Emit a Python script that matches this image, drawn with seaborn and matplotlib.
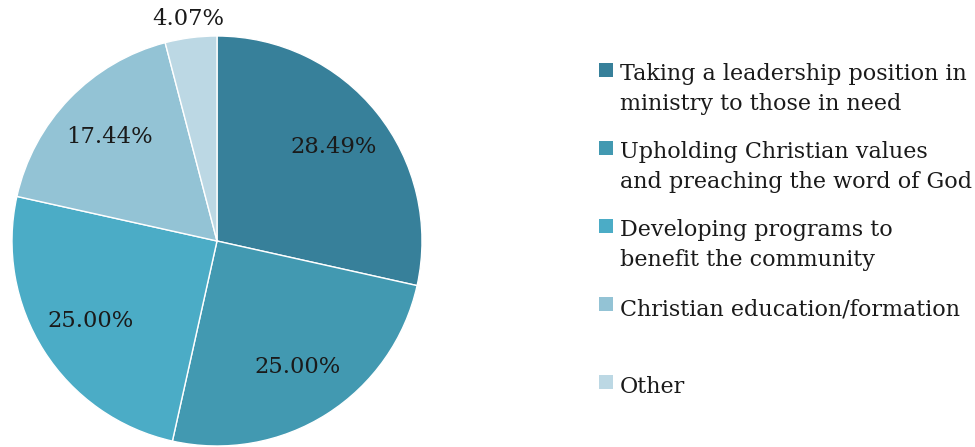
import matplotlib
matplotlib.use("Agg")
import matplotlib.pyplot as plt
from matplotlib.patches import Rectangle
import numpy as np
import seaborn as sns

categories = [
    "Taking a leadership position in\nministry to those in need",
    "Upholding Christian values\nand preaching the word of God",
    "Developing programs to\nbenefit the community",
    "Christian education/formation",
    "Other",
]
shares = [28.49, 25.00, 25.00, 17.44, 4.07]
colors = ["#37809a", "#4299b1", "#4bacc6", "#93c3d5", "#bcd8e4"]

sns.set_theme(style="white")
plt.rcParams["font.family"] = ["DejaVu Serif", "DejaVu Sans"]

W, H = 975, 447
fig = plt.figure(figsize=(W / 100, H / 100), dpi=100)

# pie axes: centre (217, 241) px, radius 205 px
cx, cy, r = 217, 241, 205
ax = fig.add_axes([(cx - r) / W, (H - cy - r) / H, 2 * r / W, 2 * r / H])
wedges, texts, autotexts = ax.pie(
    shares,
    colors=colors,
    startangle=90,
    counterclock=False,
    autopct="%.2f%%",
    pctdistance=0.73,
    wedgeprops=dict(edgecolor="white", linewidth=1),
    textprops=dict(fontsize=16.3, color="#1a1a1a"),
)
# small "Other" slice gets its label outside the circle
w = wedges[-1]
mid = np.deg2rad((w.theta1 + w.theta2) / 2)
autotexts[-1].set_position((1.09 * np.cos(mid), 1.09 * np.sin(mid)))
ax.set_xlim(-1, 1)
ax.set_ylim(-1, 1)
ax.set_aspect("equal")
ax.axis("off")

# legend on the right: square key aligned with the first text line
line_step = 29  # px between wrapped lines
for i, (lab, col) in enumerate(zip(categories, colors)):
    base = 81 + 78 * i
    nlines = lab.count("\n") + 1
    last_base = base + line_step * (nlines - 1)
    fig.patches.append(Rectangle((599 / W, (H - base + 4) / H), 14 / W, 14 / H,
                                 transform=fig.transFigure, facecolor=col,
                                 edgecolor="none"))
    fig.text(620 / W, (H - last_base) / H, lab, ha="left", va="baseline",
             fontsize=16, color="#1a1a1a", linespacing=1.46)

fig.savefig("out.png", dpi=100)
